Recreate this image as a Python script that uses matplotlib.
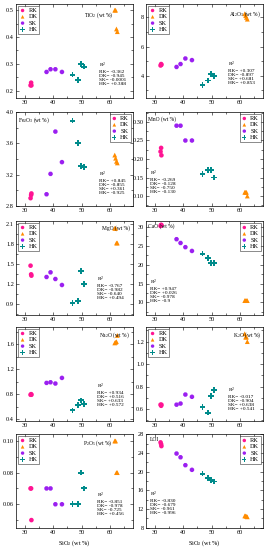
import matplotlib
matplotlib.use("Agg")
import matplotlib.pyplot as plt
from matplotlib.ticker import MultipleLocator, AutoMinorLocator

plt.rcParams['font.family'] = ['Liberation Serif', 'DejaVu Serif']
plt.rcParams['mathtext.default'] = 'regular'

# SiO2 (wt %) of each group
sio2_rk = [32.1, 32.3, 32.4]
sio2_sk = [37.7, 39.1, 40.8, 43.1]
sio2_hk = [46.8, 48.8, 49.7, 50.8]
sio2_dk = [61.6, 61.9, 62.2, 62.5]

# oxide values, group order RK, DK, SK, HK
tio2 = {"RK": [0.22, 0.23, 0.22], "DK": [0.50, 0.50, 0.43, 0.42],
        "SK": [0.27, 0.28, 0.28, 0.27], "HK": [0.26, 0.24, 0.30, 0.29]}
al2o3 = {"RK": [4.7, 4.8, 4.75], "DK": [8.25, 8.12, 8.0, 7.88],
         "SK": [4.6, 4.8, 5.18, 5.07], "HK": [3.35, 3.67, 4.1, 4.0]}
fe2o3 = {"RK": [2.90, 2.94, 2.96], "DK": [3.45, 3.41, 3.37, 3.35],
         "SK": [2.95, 3.21, 3.75, 3.36], "HK": [3.89, 3.60, 3.31, 3.30]}
mno = {"RK": [0.22, 0.23, 0.21], "DK": [0.11, 0.11, 0.11, 0.10],
       "SK": [0.29, 0.29, 0.25, 0.25], "HK": [0.16, 0.17, 0.17, 0.15]}
mgo = {"RK": [1.48, 1.35, 1.33], "DK": [2.04, 2.04, 1.82, 1.82],
       "SK": [1.31, 1.38, 1.28, 1.19], "HK": [0.92, 0.95, 1.40, 1.20]}
cao = {"RK": [30.2, 30.5, 30.4], "DK": [10.5, 10.5, 10.5, 10.5],
       "SK": [26.7, 25.7, 24.6, 23.6], "HK": [22.9, 21.8, 20.4, 20.4]}
na2o = {"RK": [0.79, 0.80, 0.79], "DK": [1.62, 1.63, 1.64, 1.74],
        "SK": [0.98, 0.99, 0.97, 1.06], "HK": [0.54, 0.63, 0.70, 0.64]}
k2o = {"RK": [0.64, 0.63, 0.64], "DK": [1.27, 1.24, 1.24, 1.20],
       "SK": [0.64, 0.65, 0.73, 0.71], "HK": [0.62, 0.57, 0.72, 0.77]}
p2o5 = {"RK": [0.07, 0.07, 0.05], "DK": [0.10, 0.10, 0.08, 0.08],
        "SK": [0.07, 0.07, 0.06, 0.06], "HK": [0.06, 0.06, 0.08, 0.07]}
loi = {"RK": [26.3, 25.9, 25.5], "DK": [10.5, 10.5, 10.4, 10.3],
       "SK": [23.9, 23.1, 21.4, 20.4], "HK": [19.6, 18.6, 18.2, 17.9]}

# correlation coefficients printed in each panel (RK, DK, SK, HK)
r_tio2 = ["-0.362", "-0.945", "-0.0001", "+0.388"]
r_al2o3 = ["+0.307", "-0.897", "+0.681", "+0.853"]
r_fe2o3 = ["+0.845", "-0.855", "+0.361", "-0.925"]
r_mno = ["-0.269", "-0.128", "-0.750", "-0.130"]
r_mgo = ["-0.767", "-0.982", "-0.640", "+0.494"]
r_cao = ["+0.947", "+0.026", "-0.978", "-0.9"]
r_na2o = ["+0.934", "+0.516", "+0.633", "+0.572"]
r_k2o = ["-0.017", "-0.904", "+0.638", "+0.541"]
r_p2o5 = ["-0.851", "-0.978", "-0.725", "+0.456"]
r_loi = ["-0.830", "-0.679", "-0.961", "-0.996"]

groups = ["RK", "DK", "SK", "HK"]
sio2 = {"RK": sio2_rk, "DK": sio2_dk, "SK": sio2_sk, "HK": sio2_hk}
colors = {"RK": "#ff1493", "DK": "#ff8c00", "SK": "#9b1ff0", "HK": "#008b8b"}
markers = {"RK": "o", "DK": "^", "SK": "8", "HK": "P"}
sizes = {"RK": 11, "DK": 12, "SK": 12, "HK": 17}

# (data, r, label, ylim, major step, label pos, label ha, r pos, legend loc)
panels = [
    (tio2, r_tio2, "TiO$_2$ (wt %)", (0.173, 0.523), 0.1, (0.58, 0.935), "left", (0.71, 0.40), "upper left"),
    (al2o3, r_al2o3, "Al$_2$O$_3$ (wt %)", (2.47, 8.92), 2, (0.985, 0.945), "right", (0.70, 0.41), "upper left"),
    (fe2o3, r_fe2o3, "Fe$_2$O$_3$ (wt %)", (2.8, 4.0), 0.4, (0.02, 0.96), "left", (0.71, 0.39), "upper right"),
    (mno, r_mno, "MnO (wt %)", (0.073, 0.327), 0.05, (0.02, 0.96), "left", (0.03, 0.40), "upper right"),
    (mgo, r_mgo, "MgO (wt %)", (0.74, 2.15), 0.3, (0.975, 0.96), "right", (0.69, 0.43), "upper left"),
    (cao, r_cao, "CaO (wt %)", (6.7, 31.5), 5, (0.02, 0.975), "left", (0.03, 0.40), "upper right"),
    (na2o, r_na2o, "Na$_2$O (wt %)", (0.37, 1.875), 0.4, (0.975, 0.965), "right", (0.69, 0.42), "upper left"),
    (k2o, r_k2o, "K$_2$O (wt %)", (0.495, 1.33), 0.2, (0.985, 0.96), "right", (0.70, 0.38), "upper left"),
    (p2o5, r_p2o5, "P$_2$O$_5$ (wt %)", (0.045, 0.1044), 0.02, (0.57, 0.95), "left", (0.69, 0.40), "upper left"),
    (loi, r_loi, "LOI", (7.9, 28.1), 4, (0.03, 0.965), "left", (0.03, 0.41), "upper right"),
]

W, H = 267, 550
fig = plt.figure(figsize=(W / 100, H / 100), dpi=100)

col_left = [16, 146]
col_width = 117
row_top = [4, 112, 221, 327, 434]
row_height = 94

for i, (data, rvals, label, ylim, step, lpos, lha, rpos, loc) in enumerate(panels):
    row, col = divmod(i, 2)
    ax = fig.add_axes([col_left[col] / W, 1 - (row_top[row] + row_height) / H,
                       col_width / W, row_height / H])
    for g in groups:
        ax.scatter(sio2[g][:len(data[g])], data[g], s=sizes[g], marker=markers[g],
                   color=colors[g], edgecolors="none", label=g, zorder=3)
    ax.set_xlim(27, 68)
    ax.set_ylim(*ylim)
    ax.xaxis.set_major_locator(MultipleLocator(10))
    ax.xaxis.set_minor_locator(MultipleLocator(5))
    ax.yaxis.set_major_locator(MultipleLocator(step))
    ax.yaxis.set_minor_locator(AutoMinorLocator(2))
    ax.tick_params(which="both", direction="in", top=True, right=True,
                   labelsize=4.5, width=0.4, pad=1.5)
    ax.tick_params(which="major", length=2)
    ax.tick_params(which="minor", length=1.2)
    for s in ax.spines.values():
        s.set_linewidth(0.5)

    ax.text(lpos[0], lpos[1], label, transform=ax.transAxes, fontsize=4,
            ha=lha, va="top")
    rtext = "R$^2$\n" + "\n".join(f"{g}= {v}" for g, v in zip(groups, rvals))
    ax.text(rpos[0], rpos[1], rtext, transform=ax.transAxes, fontsize=3.8,
            ha="left", va="top", linespacing=1.05)

    leg = ax.legend(loc=loc, fontsize=4.5, frameon=True, fancybox=False,
                    markerscale=0.75, handletextpad=0.5, labelspacing=0.15,
                    borderpad=0.3, handlelength=0.9, borderaxespad=0.3)
    leg.get_frame().set_edgecolor("black")
    leg.get_frame().set_linewidth(0.4)

    if row == 4:
        ax.set_xlabel("SiO$_2$ (wt %)", fontsize=4.5, labelpad=2)

fig.savefig("out.png", dpi=100)
